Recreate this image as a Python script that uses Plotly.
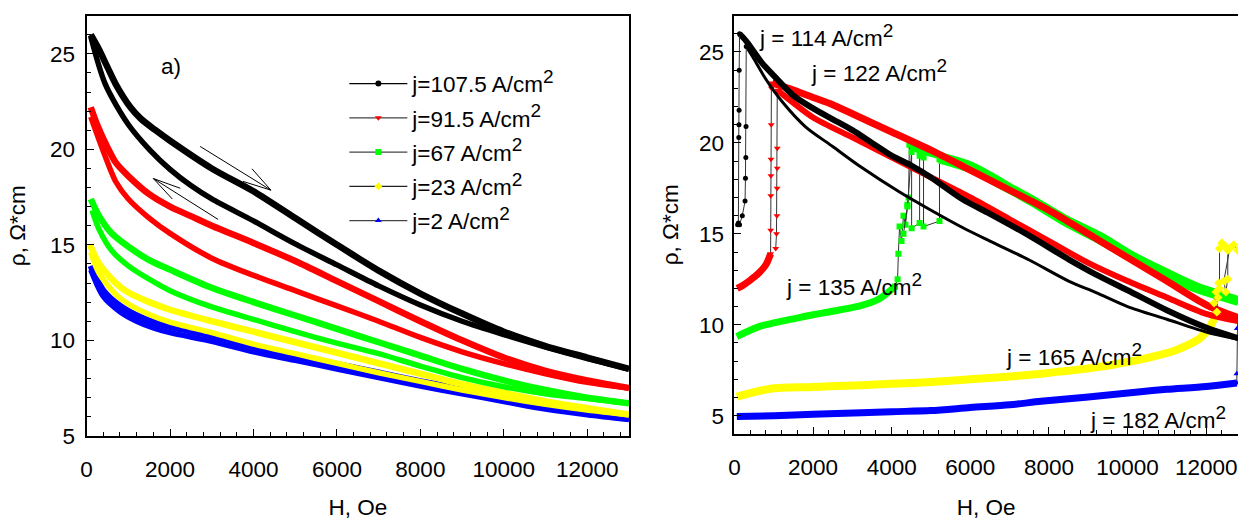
import plotly.graph_objects as go

# ---------------- panel a): rho(H) loops at different currents ----------------
# each loop: field sweep up (outer branch) and sweep back down (inner branch)
h_107_up = [100, 280, 500, 700, 1050, 1300, 1650, 2000, 3000, 4000, 5000, 6000, 7000, 8000, 9000, 10000, 11000, 12000, 13000]
rho_107_up = [26.0, 25.3, 24.3, 23.4, 22.2, 21.6, 21.0, 20.45, 19.0, 17.8, 16.4, 15.0, 13.65, 12.45, 11.4, 10.45, 9.7, 9.1, 8.5]
h_107_dn = [13000, 12000, 11000, 10000, 9000, 8000, 7000, 6000, 5000, 4000, 3000, 2500, 2000, 1500, 1000, 450, 100]
rho_107_dn = [8.5, 9.05, 9.65, 10.3, 11.0, 11.85, 12.85, 13.95, 15.05, 16.25, 17.4, 18.1, 18.95, 20.0, 21.3, 23.4, 25.9]

h_91_up = [100, 250, 500, 700, 1000, 1500, 2000, 2500, 3000, 4000, 5000, 6000, 7000, 8000, 9000, 10000, 11000, 12000, 13000]
rho_91_up = [22.2, 21.3, 20.1, 19.3, 18.6, 17.65, 17.0, 16.5, 16.0, 15.1, 14.15, 13.1, 12.05, 11.0, 10.0, 9.1, 8.4, 7.9, 7.5]
h_91_dn = [13000, 12000, 11000, 10000, 9000, 8000, 7000, 6000, 5000, 4000, 3000, 2000, 1500, 1000, 700, 400, 100]
rho_91_dn = [7.5, 7.8, 8.25, 8.78, 9.4, 10.15, 11.0, 11.8, 12.6, 13.4, 14.3, 15.6, 16.4, 17.4, 18.3, 19.9, 21.7]

h_67_up = [100, 300, 600, 1000, 1500, 2000, 3000, 4000, 5000, 6000, 7000, 8000, 9000, 10000, 11000, 12000, 13000]
rho_67_up = [17.4, 16.5, 15.6, 14.9, 14.2, 13.7, 12.75, 12.0, 11.3, 10.6, 9.9, 9.2, 8.5, 7.9, 7.4, 7.0, 6.7]
h_67_dn = [13000, 12000, 11000, 10000, 9000, 8000, 7000, 6000, 5000, 4000, 3000, 2000, 1500, 1000, 600, 300, 130]
rho_67_dn = [6.7, 6.95, 7.2, 7.57, 8.05, 8.65, 9.3, 9.85, 10.45, 11.1, 11.75, 12.6, 13.2, 13.9, 14.7, 15.8, 16.8]

h_23_up = [80, 300, 700, 1000, 1500, 2000, 3000, 4000, 5000, 6000, 7000, 8000, 9000, 10000, 11000, 12000, 13000]
rho_23_up = [15.0, 14.0, 13.0, 12.5, 12.0, 11.6, 11.0, 10.45, 9.9, 9.35, 8.8, 8.25, 7.7, 7.25, 6.8, 6.45, 6.12]
h_23_dn = [13000, 12000, 11000, 10000, 9000, 8000, 7000, 6000, 5000, 4000, 3000, 2000, 1500, 1000, 700, 300, 100]
rho_23_dn = [6.1, 6.35, 6.65, 7.0, 7.4, 7.85, 8.3, 8.8, 9.3, 9.8, 10.4, 10.95, 11.35, 11.9, 12.4, 13.5, 14.6]

h_2_up = [100, 400, 800, 1200, 1600, 2000, 3000, 4000, 5000, 6000, 7000, 8000, 9000, 10000, 11000, 12000, 13000]
rho_2_up = [13.9, 12.6, 11.8, 11.3, 10.95, 10.7, 10.25, 9.7, 9.2, 8.75, 8.3, 7.85, 7.45, 7.05, 6.65, 6.25, 5.9]
h_2_dn = [13000, 12000, 11000, 10000, 9000, 8000, 7000, 6000, 5000, 4000, 3000, 2000, 1600, 1200, 800, 400, 100]
rho_2_dn = [5.85, 6.1, 6.4, 6.8, 7.2, 7.6, 8.05, 8.5, 8.95, 9.4, 9.95, 10.4, 10.65, 11.0, 11.5, 12.3, 13.7]

# ---------------- panel b): switching at high currents ----------------
# j = 114 A/cm2
h_114_on = [80, 100, 110, 115, 118, 120, 130]
rho_114_on = [15.5, 15.6, 20.3, 21.0, 21.8, 24.0, 26.0]
h_114_up = [130, 300, 500, 700, 1000, 1500, 2000, 2500, 3000, 3500, 4000, 4500, 5000, 5800, 6500, 7500, 8500, 9200, 10000, 11000, 12000, 12810]
rho_114_up = [26.0, 25.6, 25.0, 24.4, 23.7, 22.6, 21.9, 21.3, 20.7, 20.0, 19.3, 18.75, 18.1, 16.9, 16.1, 14.9, 13.6, 12.76, 11.9, 10.8, 9.85, 9.27]
h_114_dn = [12810, 12000, 11000, 10000, 9200, 8500, 7500, 6500, 5800, 5000, 4200, 3200, 2500, 1800, 1200, 800, 500, 300]
rho_114_dn = [9.2, 9.6, 10.3, 11.0, 11.77, 12.4, 13.56, 14.6, 15.35, 16.3, 17.3, 18.7, 19.8, 20.9, 22.3, 23.5, 24.6, 25.3]
h_114_off = [300, 295, 290, 280, 270, 200, 130]
rho_114_off = [25.3, 20.9, 19.2, 18.05, 16.8, 16.0, 15.5]

# j = 122 A/cm2
h_122_lo = [70, 200, 400, 600, 800, 920]
rho_122_lo = [12.0, 12.15, 12.45, 12.8, 13.3, 13.9]
h_122_on = [920, 922, 925, 928, 930, 935, 940, 960]
rho_122_on = [13.9, 15.2, 17.1, 18.2, 19.1, 21.0, 23.0, 23.3]
h_122_up = [960, 1500, 2000, 2500, 3000, 4000, 5000, 6000, 7000, 8000, 9000, 10000, 11000, 12000, 12810]
rho_122_up = [23.3, 22.9, 22.5, 22.1, 21.6, 20.6, 19.6, 18.5, 17.4, 16.3, 15.0, 13.7, 12.4, 11.1, 10.4]
h_122_dn = [12810, 12000, 11000, 10000, 9000, 8000, 7000, 6000, 5000, 4000, 3000, 2000, 1500, 1089]
rho_122_dn = [10.2, 10.6, 11.5, 12.4, 13.4, 14.6, 15.8, 17.0, 18.1, 19.2, 20.3, 21.4, 22.2, 22.9]
h_122_off = [1089, 1089, 1088, 1085, 1080, 1070, 1050]
rho_122_off = [22.9, 19.7, 18.6, 17.5, 16.0, 15.0, 14.2]

# j = 135 A/cm2
h_135_lo = [60, 300, 625, 1000, 1553, 2000, 2400, 3241, 3663, 4085]
rho_135_lo = [9.35, 9.6, 9.9, 10.1, 10.35, 10.55, 10.7, 11.06, 11.4, 12.1]
h_135_on = [4085, 4150, 4170, 4200, 4250, 4300, 4350, 4400, 4430, 4450]
rho_135_on = [12.1, 12.5, 13.9, 15.4, 14.6, 16.0, 15.5, 16.6, 17.0, 19.9]
h_135_up = [4450, 4700, 5267, 6000, 6533, 7000, 7545, 8386, 9318, 10077, 11000, 11766, 12810]
rho_135_up = [19.9, 19.6, 19.28, 18.8, 18.2, 17.6, 16.97, 15.9, 14.9, 13.9, 12.9, 12.13, 11.4]
h_135_dn = [12810, 11766, 11000, 10077, 9318, 8386, 7545, 6533, 6000, 5267]
rho_135_dn = [11.2, 11.9, 12.6, 13.6, 14.55, 15.6, 16.7, 17.9, 18.5, 19.0]
h_135_off = [5267, 5216, 5216, 4810, 4810, 4710, 4710, 4507, 4507, 4400, 4300]
rho_135_off = [19.0, 19.1, 15.7, 15.4, 19.2, 19.3, 15.6, 15.3, 19.5, 16.5, 15.0]

# j = 165 A/cm2
h_165_lo = [60, 500, 962, 2000, 3241, 4000, 5000, 6000, 7000, 7799, 9000, 10000, 11174, 11500, 11850, 12100, 12272]
rho_165_lo = [6.05, 6.3, 6.5, 6.58, 6.68, 6.75, 6.85, 7.0, 7.15, 7.31, 7.6, 7.95, 8.56, 8.85, 9.27, 9.9, 10.7]
h_165_on = [12272, 12300, 12320, 12250, 12200, 12340, 12340, 12400, 12500, 12550, 12550, 12500, 12450, 12600, 12700, 12800]
rho_165_on = [10.7, 11.5, 12.3, 11.8, 11.2, 12.0, 14.2, 14.5, 14.3, 14.1, 12.5, 11.8, 12.4, 14.2, 14.4, 14.1]

# j = 182 A/cm2
h_182_lo = [60, 1000, 2000, 3241, 4000, 5000, 6000, 7000, 7799, 9000, 10330, 11000, 12000, 12779]
rho_182_lo = [4.95, 5.0, 5.08, 5.16, 5.22, 5.28, 5.45, 5.6, 5.79, 6.03, 6.32, 6.45, 6.6, 6.8]
h_182_on = [12779, 12780, 12790, 12800]
rho_182_on = [6.8, 7.3, 9.8, 10.3]

BLACK, RED, GREEN, YELLOW, BLUE = "#000000", "#ff0000", "#00ff00", "#ffff00", "#0000ff"
FONT = "Arial, Liberation Sans, sans-serif"
FS = 22.5
SUP2 = "<sup><span style='font-size:19px'>2</span></sup>"

fig = go.Figure()


def band(h, rho, color, xa, ya, width):
    fig.add_trace(go.Scatter(x=h, y=rho, mode="lines", xaxis=xa, yaxis=ya,
                             line=dict(color=color, width=width, shape="spline", smoothing=0.8),
                             showlegend=False, hoverinfo="skip"))


def jump(h, rho, color, symbol, xa="x2", ya="y2", size=6):
    fig.add_trace(go.Scatter(x=h, y=rho, mode="lines+markers", xaxis=xa, yaxis=ya,
                             line=dict(color="#333333", width=1),
                             marker=dict(color=color, size=size, symbol=symbol, line=dict(width=0)),
                             showlegend=False, hoverinfo="skip"))


# panel a) loops
for up_h, up_r, dn_h, dn_r, col in [
    (h_2_up, rho_2_up, h_2_dn, rho_2_dn, BLUE),
    (h_23_up, rho_23_up, h_23_dn, rho_23_dn, YELLOW),
    (h_67_up, rho_67_up, h_67_dn, rho_67_dn, GREEN),
    (h_91_up, rho_91_up, h_91_dn, rho_91_dn, RED),
    (h_107_up, rho_107_up, h_107_dn, rho_107_dn, BLACK),
]:
    band(up_h, up_r, col, "x", "y", 6.5)
    band(dn_h, dn_r, col, "x", "y", 5.5)

# legend entries for panel a)
legend_items = [
    ("j=107.5 A/cm" + SUP2, BLACK, "circle", "#000000"),
    ("j=91.5 A/cm" + SUP2, RED, "triangle-down", "#444444"),
    ("j=67 A/cm" + SUP2, GREEN, "square", "#444444"),
    ("j=23 A/cm" + SUP2, YELLOW, "diamond", "#222222"),
    ("j=2 A/cm" + SUP2, BLUE, "triangle-up", "#444444"),
]
for i, (name, col, sym, lcol) in enumerate(legend_items):
    fig.add_trace(go.Scatter(x=[None], y=[None], mode="lines+markers", name=name,
                             legendgroup=f"g{i}", xaxis="x", yaxis="y",
                             line=dict(color=lcol, width=1.2),
                             marker=dict(color=col, size=6, symbol=sym, line=dict(width=0))))

# panel b) switching curves
band(h_182_lo, rho_182_lo, BLUE, "x2", "y2", 7)
jump(h_182_on, rho_182_on, BLUE, "triangle-up")
band(h_165_lo, rho_165_lo, YELLOW, "x2", "y2", 8)
band(h_135_lo, rho_135_lo, GREEN, "x2", "y2", 7)
band(h_135_up, rho_135_up, GREEN, "x2", "y2", 7)
band(h_135_dn, rho_135_dn, GREEN, "x2", "y2", 6)
jump(h_135_on, rho_135_on, GREEN, "square")
jump(h_135_off, rho_135_off, GREEN, "square")
band(h_122_lo, rho_122_lo, RED, "x2", "y2", 7)
band(h_122_up, rho_122_up, RED, "x2", "y2", 7)
band(h_122_dn, rho_122_dn, RED, "x2", "y2", 6)
jump(h_122_on, rho_122_on, RED, "triangle-down")
jump(h_122_off, rho_122_off, RED, "triangle-down")
band(h_114_up, rho_114_up, BLACK, "x2", "y2", 6)
band(h_114_dn, rho_114_dn, BLACK, "x2", "y2", 3)
jump(h_114_on, rho_114_on, BLACK, "circle", size=5)
jump(h_114_off, rho_114_off, BLACK, "circle", size=5)
jump(h_165_on, rho_165_on, YELLOW, "diamond", size=7)

axis_common = dict(
    showline=True, linecolor="black", linewidth=2,
    ticks="inside", ticklen=7, tickwidth=1.3, tickcolor="black",
    showgrid=False, zeroline=False, tickformat="d",
    tickfont=dict(family=FONT, size=FS, color="black"),
    title_font=dict(family=FONT, size=FS, color="black"),
)
x_minor = dict(dtick=400, ticks="inside", ticklen=4, tickcolor="black")
y_minor = dict(dtick=1, ticks="inside", ticklen=4, tickcolor="black")

fig.update_layout(
    width=1238, height=520,
    margin=dict(l=0, r=0, t=0, b=0),
    paper_bgcolor="white", plot_bgcolor="white",
    font=dict(family=FONT, size=FS, color="black"),
    xaxis=dict(domain=[81 / 1238, 626 / 1238], range=[0, 13000], dtick=2000, mirror=True,
               minor=x_minor, ticklabelstandoff=12,
               title=dict(text="H, Oe", standoff=22), anchor="y", **axis_common),
    yaxis=dict(domain=[73 / 520, 504 / 520], range=[5, 27], dtick=5, tick0=5, mirror=True,
               minor=y_minor, ticklabelstandoff=5,
               title=dict(text="ρ, Ω*cm", standoff=18), anchor="x", **axis_common),
    xaxis2=dict(domain=[732 / 1238, 1.0], range=[0, 12810], dtick=2000, mirror=True,
                minor=x_minor, ticklabelstandoff=12,
                title=dict(text="H, Oe", standoff=22), anchor="y2", **axis_common),
    yaxis2=dict(domain=[75 / 520, 504 / 520], range=[4, 27], dtick=5, tick0=5, mirror=False,
                minor=y_minor, ticklabelstandoff=4,
                title=dict(text="ρ, Ω*cm", standoff=14), anchor="x2", **axis_common),
    legend=dict(x=340 / 1238, y=(520 - 64) / 520, xanchor="left", yanchor="top",
                bgcolor="rgba(0,0,0,0)", tracegroupgap=2, itemwidth=58,
                font=dict(family=FONT, size=FS, color="black")),
)

# direction arrows for the field sweep (open heads)
arrow_paths = [
    "M 2722 20.15 L 4418 17.86 M 3964 18.98 L 4418 17.86 L 3749 18.32",
    "M 3152 16.33 L 1600 18.47 M 2245 17.96 L 1600 18.47 L 2054 17.40",
]
for p in arrow_paths:
    fig.add_shape(type="path", path=p, xref="x", yref="y",
                  line=dict(color="black", width=1))

fig.add_annotation(x=2030, y=24.34, xref="x", yref="y", text="a)", showarrow=False,
                   font=dict(family=FONT, size=FS, color="black"))

labels_b = [
    (582, 25.9, "j = 114 A/cm" + SUP2),
    (1899, 24.0, "j = 122 A/cm" + SUP2),
    (1266, 12.2, "j = 135 A/cm" + SUP2),
    (6862, 8.34, "j = 165 A/cm" + SUP2),
    (8989, 4.9, "j = 182 A/cm" + SUP2),
]
for hx, ry, txt in labels_b:
    fig.add_annotation(x=hx, y=ry, xref="x2", yref="y2", text=txt, showarrow=False,
                       xanchor="left", yanchor="middle",
                       font=dict(family=FONT, size=FS, color="black"))

fig.write_html("out.html")
